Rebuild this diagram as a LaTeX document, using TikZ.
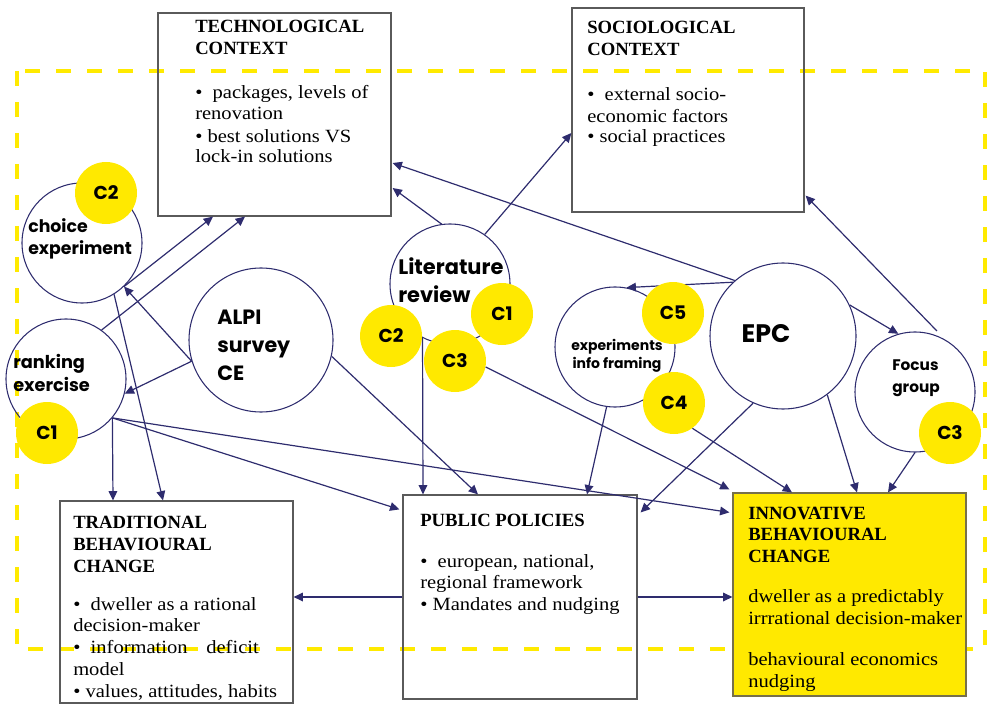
\documentclass[tikz,border=0pt]{standalone}
\usepackage{fontspec}
\setmainfont{Liberation Serif}[FakeStretch=1.1]
\newfontfamily\ttlfont{Liberation Serif}[FakeStretch=1.0]
\newfontfamily\circfont{Poppins}
\usetikzlibrary{arrows.meta}
\definecolor{navy}{HTML}{2E2C6E}
\definecolor{cyel}{HTML}{FFE900}
\definecolor{dashyel}{HTML}{FFEA00}
\definecolor{boxgray}{HTML}{5A5A5A}
\definecolor{innovborder}{HTML}{77704A}
\newcommand{\ttlx}[1]{{\ttlfont\bfseries #1}}
\begin{document}
\begin{tikzpicture}[x=0.75pt,y=-0.75pt,
  box/.style={rectangle, draw=boxgray, line width=0.9pt, inner sep=0pt},
  circ/.style={circle, draw=navy, line width=0.8pt, inner sep=0pt},
  cyc/.style={circle, fill=cyel, inner sep=0pt, minimum size=46.5pt,
    font=\circfont\bfseries\fontsize{14}{14}\selectfont},
  conn/.style={draw=navy, line width=0.9pt, -{Triangle[length=7pt,width=6.5pt]}},
  btext/.style={anchor=base west, align=left, inner sep=0pt,
    font=\fontsize{14}{15.5}\selectfont},
  btextl/.style={anchor=base west, align=left, inner sep=0pt,
    font=\fontsize{14}{16.3}\selectfont},
  clab/.style={anchor=base west, align=left, inner sep=0pt, text=black}
]
\useasboundingbox (0,0) rectangle (988,709);

% yellow dashed frame
\draw[dashyel, line width=3.4pt, dash pattern=on 11.25pt off 12pt] (17,71) rectangle (985,649);

% boxes
\node[box, minimum width=174.75pt, minimum height=152.25pt] (tech) at (274.5,114.5) {};
\node[box, minimum width=174pt, minimum height=153pt] (socio) at (688,110) {};
\node[box, minimum width=174.75pt, minimum height=151.5pt] (trad) at (176.5,602) {};
\node[box, minimum width=175.5pt, minimum height=153pt] (pp) at (520,597) {};
\node[box, fill=cyel, draw=innovborder, minimum width=174.75pt, minimum height=152.25pt] (innov) at (849.5,594.5) {};

% box texts (anchored at the baseline of the last line)
\node[btext] (techT) at (195,163) {\ttlx{TECHNOLOGICAL}\\[1pt]\ttlx{CONTEXT}\\[17.5pt]
  \textbullet\ \ packages, levels of\\renovation\\[1.5pt]\textbullet\ best solutions VS\\lock-in solutions};
\node[btext] (socioT) at (587,143) {\ttlx{SOCIOLOGICAL}\\[1pt]\ttlx{CONTEXT}\\[18pt]
  \textbullet\ \ external socio-\\[1pt]economic factors\\\textbullet\ social practices};
\node[btextl] (tradT) at (73,697) {\ttlx{TRADITIONAL}\\\ttlx{BEHAVIOURAL}\\\ttlx{CHANGE}\\[12.2pt]
  \textbullet\ \ dweller as a rational\\decision-maker\\\textbullet\ \ information\hspace{14pt}deficit\\model\\\textbullet\ values, attitudes, habits};
\node[btext] (ppT) at (420,610) {\ttlx{PUBLIC POLICIES}\\[15.2pt]
  \textbullet\ \ european, national,\\regional framework\\[1pt]\textbullet\ Mandates and nudging};
\node[btextl] (innovT) at (748,687) {\ttlx{INNOVATIVE}\\\ttlx{BEHAVIOURAL}\\\ttlx{CHANGE}\\[13.7pt]
  dweller as a predictably\\irrrational decision-maker\\[14.5pt]behavioural economics\\nudging};

% circles
\node[circ, minimum size=90pt] (choice) at (82,243) {};
\node[circ, minimum size=90pt] (ranking) at (66,379) {};
\node[circ, minimum size=108pt] (alpi) at (261,340) {};
\node[circ, minimum size=90pt] (lit) at (450,284) {};
\node[circ, minimum size=90pt] (exp) at (615,347) {};
\node[circ, minimum size=109.5pt] (epc) at (783,336) {};
\node[circ, minimum size=90pt] (focus) at (915,392) {};

% connectors
\draw[conn] (alpi.197) -- (choice.-46);
\draw[conn] (alpi.197) -- (ranking.-14);
\draw[conn] (choice.-46) -- ([shift={(-61.5,0)}]tech.south);
\draw[conn] (ranking.54) -- ([shift={(-29.5,0)}]tech.south);
\draw[conn] (choice.-58) -- ([shift={(-13.5,0)}]trad.north);
\draw[conn] (ranking.-40) -- ([shift={(-63.5,0)}]trad.north);
\draw[conn] (ranking.-40) -- ([shift={(-3,15)}]pp.north west);
\draw[conn] (ranking.-40) -- ([shift={(-3,20)}]innov.north west);
\draw[conn] (alpi.-13) -- ([shift={(-42,0)}]pp.north);
\draw[conn] (lit.243) -- ([shift={(-97,0)}]pp.north);
\draw[conn] (lit.98) -- ([shift={(1,73.5)}]tech.east);
\draw[conn] (lit.55) -- ([shift={(0,23)}]socio.west);
\draw[conn] (epc.131) -- ([shift={(1,48.5)}]tech.east);
\draw[conn] (epc.133) -- (exp.79);
\draw[conn] (epc.25) -- (focus.106);
\draw[conn, shorten <=9pt] (focus.60) -- ([shift={(1,-17)}]socio.south east);
\draw[conn] (epc.-53) -- ([shift={(7.5,0)}]innov.north);
\draw[conn] (focus.-90) -- ([shift={(38.5,0)}]innov.north);
\draw[conn] (epc.246) -- ([shift={(3,18)}]pp.north east);
\draw[conn] (exp.262) -- ([shift={(67,0)}]pp.north);
\draw[conn] (pp.west) -- (pp.west -| trad.east);
\draw[conn] (pp.east) -- (pp.east -| innov.west);

% yellow markers
\node[cyc] (cA) at (106,193) {C2};
\node[cyc] (cB) at (47,433) {C1};
\node[cyc] (cC) at (502,314) {C1};
\node[cyc] (cD) at (391,336) {C2};
\node[cyc] (cE) at (455,361) {C3};
\node[cyc] (cF) at (673,313) {C5};
\node[cyc] (cG) at (674,403) {C4};
\node[cyc] (cH) at (950,433) {C3};

\draw[conn] (cE.-11) -- ([shift={(-3,-3)}]innov.north west);
\draw[conn] (cG.-54) -- ([shift={(-57.5,0)}]innov.north);

% circle labels (anchored at the baseline of the last line)
\node[clab, font=\circfont\bfseries\fontsize{13}{16.5}\selectfont] (choiceT) at (28,254) {choice\\experiment};
\node[clab, font=\circfont\bfseries\fontsize{13.3}{17}\selectfont] (rankingT) at (13,391) {ranking\\exercise};
\node[clab, font=\circfont\bfseries\fontsize{15.5}{21}\selectfont] (alpiT) at (217,380) {ALPI\\survey\\CE};
\node[clab, font=\circfont\bfseries\fontsize{15.7}{20.3}\selectfont] (litT) at (398,302) {Literature\\review};
\node[anchor=base, align=center, inner sep=0pt, font=\circfont\bfseries\fontsize{10.5}{13.5}\selectfont] (expT) at (617,368) {experiments\\info framing};
\node[anchor=base, inner sep=0pt, font=\circfont\bfseries\fontsize{19}{19}\selectfont] (epcT) at (766,342) {EPC};
\node[clab, font=\circfont\bfseries\fontsize{11.5}{16.5}\selectfont] (focusT) at (892,392) {Focus\\group};
\end{tikzpicture}
\end{document}
